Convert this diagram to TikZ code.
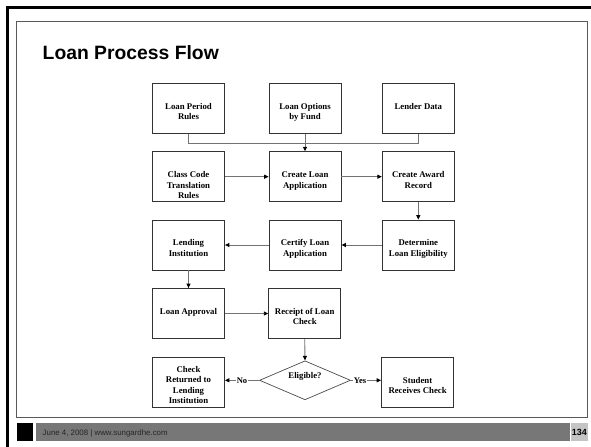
\documentclass[tikz,border=0pt]{standalone}
\usepackage{fontspec}
\setmainfont{Liberation Serif}
\setsansfont{Liberation Sans}
\usetikzlibrary{arrows.meta,shapes.geometric,calc}

% box text: first baseline placed near the shape centre, zero height so the shape keeps its size
\newcommand{\btxt}[2][-1bp]{\raisebox{#1}[0pt][0pt]{\begin{tabular}[t]{@{}c@{}}#2\end{tabular}}}

\definecolor{barGray}{HTML}{777777}
\definecolor{pageGray}{HTML}{C4C4C4}

\begin{document}
\begin{tikzpicture}[x=1bp,y=-1bp,
  stepbox/.style={draw=black!80, line width=0.8bp, fill=white,
    minimum width=72bp, minimum height=50bp, inner sep=0pt,
    font=\bfseries\fontsize{8.8}{10.5}\selectfont},
  decision/.style={diamond, draw=black!70, line width=0.7bp,
    minimum width=91bp, minimum height=39bp, inner sep=0pt, aspect=2.33,
    font=\bfseries\fontsize{8.8}{10.5}\selectfont},
  link/.style={draw=black!55, line width=0.9bp},
  arr/.style={link, -{Triangle[length=4.5bp,width=4bp,black]}},
  edgelabel/.style={fill=white, inner sep=1.2bp, font=\bfseries\fontsize{8.6}{10}\selectfont},
]
\useasboundingbox (0,0) rectangle (591,447);
\fill[white] (0,0) rectangle (591,447);

% slide frame
\draw[line width=3bp, black] (7.5,447) -- (7.5,7.6) -- (591,7.6);
\draw[line width=1.1bp, black!65] (16.5,21.5) rectangle (587.5,417.5);

% title
\node[anchor=base west, inner sep=0pt, font=\sffamily\bfseries\fontsize{19.4}{23}\selectfont] (title) at (42.5,60) {Loan Process Flow};

% footer
\fill[black] (17,422.5) rectangle (33.3,441);
\fill[barGray] (36,422.5) rectangle (569.5,441);
\fill[pageGray] (570.8,422.5) rectangle (588.3,441);
\node[anchor=base west, inner sep=0pt, text=black!85, font=\sffamily\fontsize{7.9}{9}\selectfont] (foot) at (42.5,435.5) {June 4, 2008 | www.sungardhe.com};
\node[anchor=base, inner sep=0pt, font=\sffamily\bfseries\fontsize{9}{10}\selectfont] (page) at (579.4,435.7) {134};

% row 1
\node[stepbox] (lpr)  at (188.5,108.3) {\btxt{Loan Period\\Rules}};
\node[stepbox] (lof)  at (305,108.3)   {\btxt{Loan Options\\by Fund}};
\node[stepbox] (ldat) at (418.3,108.3) {\btxt{Lender Data}};
% row 2
\node[stepbox] (ccr)  at (188.5,176.7) {\btxt{Class Code\\Translation\\Rules}};
\node[stepbox] (cla)  at (305,176.7)   {\btxt{Create Loan\\Application}};
\node[stepbox] (car)  at (418.3,176.7) {\btxt{Create Award\\Record}};
% row 3
\node[stepbox] (li)   at (188.5,245)   {\btxt{Lending\\Institution}};
\node[stepbox] (cert) at (305,245)     {\btxt{Certify Loan\\Application}};
\node[stepbox] (dle)  at (418.3,245)   {\btxt{Determine\\Loan Eligibility}};
% row 4
\node[stepbox] (la)   at (188.5,313.5) {\btxt{Loan Approval}};
\node[stepbox] (rlc)  at (304.7,313.5) {\btxt{Receipt of Loan\\Check}};
% row 5
\node[decision] (elig) at (305,380.3) {\raisebox{2bp}[0pt][0pt]{Eligible?}};
\node[stepbox] (crl)  at (188.5,382.3) {\btxt[10bp]{Check\\Returned to\\Lending\\Institution}};
\node[stepbox] (src)  at (417.6,382.3) {\btxt{Student\\Receives Check}};

% connectors
\draw[link] (lpr.south) -- ++(0,9.4) -| (ldat.south);
\draw[arr] (lof.south) -- (cla.north);
\draw[arr] (ccr.east) -- (cla.west);
\draw[arr] (cla.east) -- (car.west);
\draw[arr] (car.south) -- (dle.north);
\draw[arr] (dle.west) -- (cert.east);
\draw[arr] (cert.west) -- (li.east);
\draw[arr] (li.south) -- (la.north);
\draw[arr] (la.east) -- (rlc.west);
\draw[arr] (rlc.south) -- (elig.north);
\draw[arr] (elig.west) -- node[edgelabel] {No} (elig.west -| crl.east);
\draw[arr] (elig.east) -- node[edgelabel, pos=0.3] {Yes} (elig.east -| src.west);
\end{tikzpicture}
\end{document}
